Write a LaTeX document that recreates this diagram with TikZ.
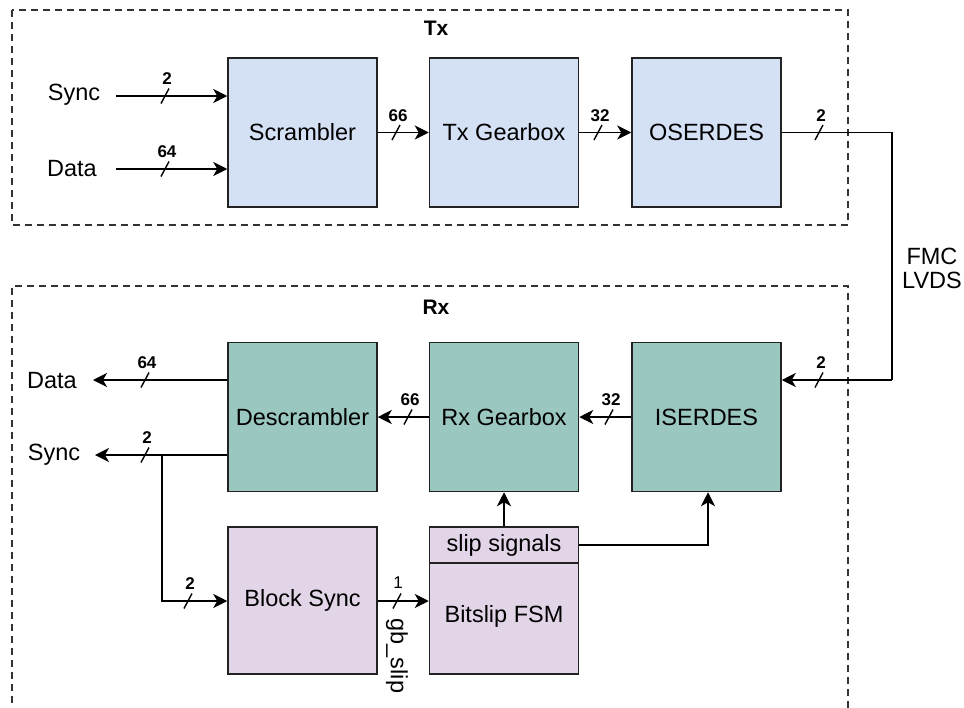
\documentclass[tikz,border=0pt]{standalone}
\usepackage{fontspec}
\setmainfont{Liberation Sans}
\usetikzlibrary{arrows.meta,calc}
\definecolor{txfill}{HTML}{D4E1F5}
\definecolor{rxfill}{HTML}{9AC7BF}
\definecolor{synfill}{HTML}{E1D5E7}
\definecolor{edge}{HTML}{222222}
\definecolor{dashc}{HTML}{333333}
\tikzset{
  blockbox/.style={draw=edge,line width=1.5pt,minimum width=149pt,minimum height=149pt,inner sep=0pt,font=\fontsize{23.5}{26}\selectfont,text=black},
  groupbox/.style={draw=dashc,line width=1.3pt,dash pattern=on 7pt off 5pt},
  grouplbl/.style={font=\bfseries\fontsize{21}{24}\selectfont},
  sidelbl/.style={font=\fontsize{23.5}{26}\selectfont,inner sep=0pt},
  wire/.style={line width=1.6pt,draw=black},
  arr/.style={wire,-{Stealth[length=14pt,width=14pt,inset=4pt]}},
  buslbl/.style={font=\bfseries\fontsize{17}{19}\selectfont,inner sep=0pt},
  pics/busmark/.style={code={
    \draw[line width=1.4pt] (-4,7.5) -- (4,-7.5);
    \node[buslbl] at (2,-17) {#1};
  }},
  pics/busmarkn/.style={code={
    \draw[line width=1.4pt] (-4,7.5) -- (4,-7.5);
    \node[inner sep=0pt,font=\fontsize{17}{19}\selectfont] at (1,-18) {#1};
  }},
}
\begin{document}
\begin{tikzpicture}[x=1pt,y=-1pt]
\useasboundingbox (0,0) rectangle (964,707);
% group boxes
\draw[groupbox] (12,10) rectangle (848,225);
\draw[groupbox] (12,715) -- (12,286) -- (848,286) -- (848,715);
\node[grouplbl] (txl) at (436,28) {Tx};
\node[grouplbl] (rxl) at (436,307) {Rx};
% Tx blocks
\node[blockbox,fill=txfill] (scr) at (302.5,132.5) {Scrambler};
\node[blockbox,fill=txfill] (txgb) at (504,132.5) {Tx Gearbox};
\node[blockbox,fill=txfill] (oser) at (706.5,132.5) {OSERDES};
% Rx blocks
\node[blockbox,fill=rxfill] (descr) at (302.5,417) {Descrambler};
\node[blockbox,fill=rxfill] (rxgb) at (504,417) {Rx Gearbox};
\node[blockbox,fill=rxfill] (iser) at (706.5,417) {ISERDES};
\node[blockbox,fill=synfill,minimum height=147pt] (bsync) at (302.5,600.5) {Block Sync};
\node[blockbox,fill=synfill,minimum height=147pt] (fsm) at (504,600.5) {};
\node[blockbox,fill=synfill,minimum height=36pt] (slip) at (504,545) {slip signals};
\node[sidelbl] (fsmt) at (504,616) {Bitslip FSM};
% Tx inputs
\node[sidelbl] (syncin) at (74,95) {Sync};
\node[sidelbl] (datain) at (72,169) {Data};
\coordinate (syncs) at (116,96);
\coordinate (datas) at (116,169);
\draw[arr] (syncs) -- (syncs -| scr.west);
\draw[arr] (datas) -- (datas -| scr.west);
\pic at (165,96) {busmark=2};
\pic at (165,169) {busmark=64};
% Tx chain
\draw[arr] (scr) -- (txgb);
\pic at (396,132.5) {busmark=66};
\draw[arr] (txgb) -- (oser);
\pic at (598,132.5) {busmark=32};
% FMC link
\coordinate (fmc1) at (892,132.5);
\coordinate (fmc2) at (892,380);
\draw[wire] (oser.east) -- (fmc1) -- (fmc2);
\draw[arr] (fmc2) -- (fmc2 -| iser.east);
\pic at (819,132.5) {busmark=2};
\pic at (819,380) {busmark=2};
\node[sidelbl,align=center] (fmcl) at (932,268) {FMC\\[-2pt]LVDS};
% Rx chain
\draw[arr] (iser) -- (rxgb);
\pic at (609,417) {busmark=32};
\draw[arr] (rxgb) -- (descr);
\pic at (408,417) {busmark=66};
% Rx outputs
\node[sidelbl] (dataout) at (52,381) {Data};
\node[sidelbl] (syncout) at (54,455) {Sync};
\coordinate (datae) at (93,380);
\coordinate (synce) at (95,455);
\coordinate (br) at (162,455);
\draw[arr] (datae -| descr.west) -- (datae);
\draw[arr] (synce -| descr.west) -- (synce);
\pic at (145,380) {busmark=64};
\pic at (145,455) {busmark=2};
\coordinate (brd) at (162,601);
\draw[arr] (br) -- (brd) -- (brd -| bsync.west);
\pic at (188,601) {busmark=2};
% Block sync to FSM
\draw[arr] (bsync.east |- 0,601) -- (fsm.west |- 0,601);
\pic at (397,601) {busmarkn=1};
\node[sidelbl,rotate=-90] (gbs) at (397,656) {gb\_slip};
% slip signals
\draw[arr] (slip.north) -- (rxgb.south);
\coordinate (sl) at (708,545);
\draw[arr] (slip.east) -- (sl) -- (sl |- iser.south);
\end{tikzpicture}
\end{document}
